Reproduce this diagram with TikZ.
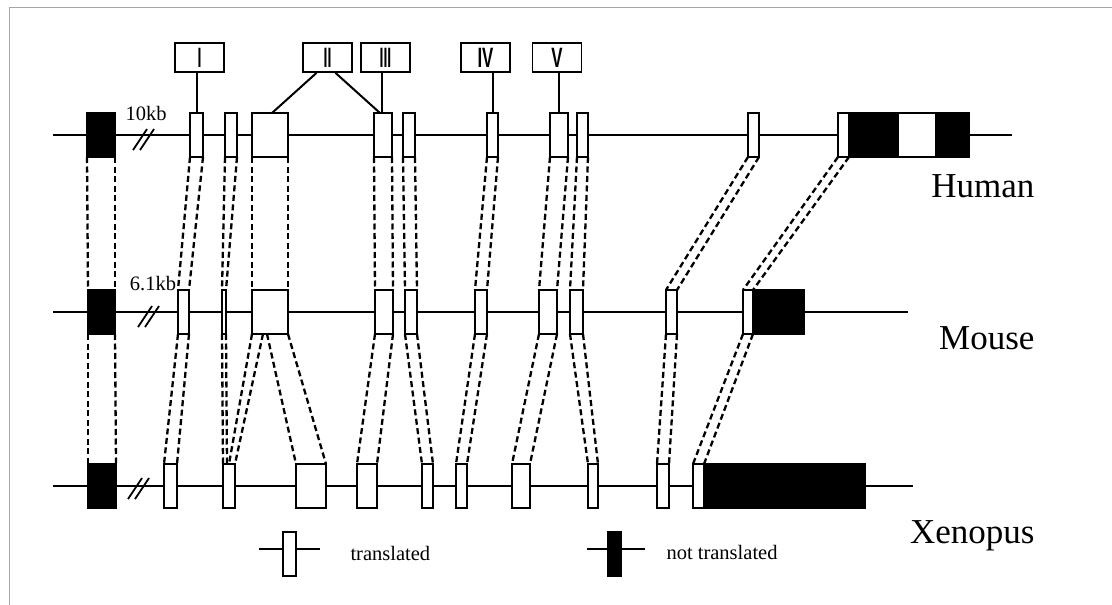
\documentclass[tikz,border=0pt]{standalone}
\usepackage{fontspec}
\setmainfont{Liberation Serif}
\newfontfamily\numfont{Liberation Sans}
\begin{document}
\begin{tikzpicture}[x=1pt,y=-1pt,
  gene/.style={line width=2pt},
  exon/.style={draw,line width=2pt,inner sep=0pt,outer sep=0pt,minimum height=44pt},
  dom/.style={draw,line width=1.8pt,inner sep=0pt,minimum width=49pt,minimum height=29pt,font=\numfont\bfseries\fontsize{28}{28}\selectfont},
  hom/.style={line width=2.3pt,dash pattern=on 6pt off 3.5pt},
  species/.style={anchor=base east,font=\fontsize{35}{40}\selectfont},
  small/.style={font=\fontsize{20.5}{24}\selectfont}]
  \useasboundingbox (0,0) rectangle (1112,605);
  \draw[gray!70,line width=1pt] (9,605)--(9,7)--(1112,7);
  \draw[gene] (53,135)--(1012,135);
  \draw[gene] (53,312)--(908,312);
  \draw[gene] (53,486)--(913,486);
  \foreach \cx/\cy in {143/139,148/316,138/488}{\draw[line width=1.8pt] (\cx-10,\cy+11)--++(14,-21); \draw[line width=1.8pt] (\cx-3,\cy+11)--++(14,-21);}
  \node[small] (kb1) at (146,113) {10kb};
  \node[small] (kb2) at (153,284) {6.1kb};
  \foreach \n/\a/\b/\c in {h0/87/115/black,h1/190/203/white,h2/225/237/white,h3/252/288/white,h4/374/392/white,h5/403/415/white,h6/487/498/white,h7/550/568/white,h8/577/588/white,h9/748/759/white,h10/838/849/white,hb1/849/898/black,hw/898/936/white,hb2/936/969/black}
    {\node[exon,fill=\c,minimum width=\b-\a] (\n) at ({(\a+\b)/2},135) {};}
  \foreach \n/\a/\b/\c in {m0/88/115/black,m1/178/189/white,m2/222/226/white,m3/252/288/white,m4/375/393/white,m5/405/417/white,m6/475/487/white,m7/539/557/white,m8/570/583/white,m9/666/677/white,m10/743/753/white,mb/753/804/black}
    {\node[exon,fill=\c,minimum width=\b-\a] (\n) at ({(\a+\b)/2},312) {};}
  \foreach \n/\a/\b/\c in {x0/88/116/black,x1/164/177/white,x2/223/235/white,x3/296/326/white,x4/357/377/white,x5/422/433/white,x6/456/467/white,x7/512/530/white,x8/588/598/white,x9/657/669/white,x10/693/704/white,xb/704/865/black}
    {\node[exon,fill=\c,minimum width=\b-\a] (\n) at ({(\a+\b)/2},486) {};}
  \foreach \u/\d in {h0/m0,h1/m1,h2/m2,h3/m3,h4/m4,h5/m5,h6/m6,h7/m7,h8/m8,h9/m9,h10/m10,m0/x0,m1/x1,m4/x4,m5/x5,m6/x6,m7/x7,m8/x8,m9/x9,m10/x10}
    {\draw[hom] (\u.south west)--(\d.north west); \draw[hom] (\u.south east)--(\d.north east);}
  \draw[hom] (m2.south west)--(x2.north west);
  \draw[hom] (m2.south east)--([xshift=4pt]x2.north west);
  \draw[hom] (m3.south west)--([xshift=6pt]x2.north west);
  \draw[hom] ([xshift=11pt]m3.south west)--(x2.north east);
  \draw[hom] ([xshift=15pt]m3.south west)--(x3.north west);
  \draw[hom] (m3.south east)--(x3.north east);
  \node[dom] (d1) at (199.5,57.5) {\scalebox{0.5}[1]{I}};
  \node[dom] (d2) at (327.5,57.5) {\scalebox{0.5}[1]{II}};
  \node[dom] (d3) at (385.5,57.5) {\scalebox{0.5}[1]{III}};
  \node[dom] (d4) at (485.5,57.5) {\scalebox{0.6}[1]{IV}};
  \node[dom] (d5) at (557,57.5) {\scalebox{0.6}[1]{V}};
  \draw[gene] (h1.north)--(h1.north |- d1.south);
  \draw[gene] ([xshift=20pt]h3.north west)--([xshift=-11pt]d2.south);
  \draw[gene] ([xshift=6pt]h4.north west)--([xshift=8pt]d2.south);
  \draw[gene] ([xshift=8pt]h4.north west)--([xshift=8pt]h4.north west |- d3.south);
  \draw[gene] (h6.north)--(h6.north |- d4.south);
  \draw[gene] (h7.north)--(h7.north |- d5.south);
  \node[species] (hum) at (1038,197) {Human};
  \node[species] (mou) at (1038,349) {Mouse};
  \node[species] (xen) at (1038,543) {Xenopus};
  \node[exon,fill=white,minimum width=13pt] (lt) at (289.5,554) {};
  \draw[gene] (lt.west |- 0,549)--++(-24,0);
  \draw[gene] (lt.east |- 0,549)--++(24,0);
  \node[small,anchor=base west] (ltt) at (347,560) {translated};
  \node[exon,fill=black,minimum width=13pt] (ln) at (614.5,554) {};
  \draw[gene] (ln.west |- 0,549)--++(-21,0);
  \draw[gene] (ln.east |- 0,549)--++(24,0);
  \node[small,anchor=base west] (lnt) at (663,559) {not translated};
\end{tikzpicture}
\end{document}
